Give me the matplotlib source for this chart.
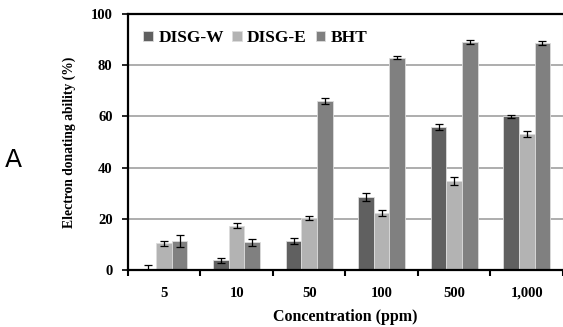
import numpy as np
import matplotlib
matplotlib.use("Agg")
import matplotlib.pyplot as plt

categories = ["5", "10", "50", "100", "500", "1,000"]
series = ["DISG-W", "DISG-E", "BHT"]
disg_w = [0.3, 3.8, 11.3, 28.5, 56.0, 60.0]
disg_w_err = [1.5, 1.0, 1.3, 1.7, 1.1, 0.5]
disg_e = [10.5, 17.3, 20.3, 22.3, 34.8, 53.3]
disg_e_err = [1.0, 1.0, 0.8, 1.2, 1.6, 1.2]
bht = [11.5, 10.8, 66.0, 83.0, 89.0, 88.8]
bht_err = [2.3, 1.3, 1.3, 0.6, 0.7, 0.7]

colors = ["#606060", "#b3b3b3", "#808080"]
serif = "Liberation Serif"

fig = plt.figure(figsize=(5.63, 3.27), dpi=100)
ax = fig.add_axes([0.227, 0.174, 0.773, 0.783])

x = np.arange(len(categories))
w = 0.215
values = [disg_w, disg_e, bht]
errors = [disg_w_err, disg_e_err, bht_err]
for i, (vals, errs) in enumerate(zip(values, errors)):
    ax.bar(x + (i - 1) * w, vals, w, color=colors[i], edgecolor="#dcdcdc",
           linewidth=0.6, label=series[i], zorder=2)
    ax.errorbar(x + (i - 1) * w, vals, yerr=errs, fmt="none", ecolor="black",
                elinewidth=0.9, capsize=2.6, capthick=0.9, zorder=3)

ax.set_xlim(-0.5, len(categories) - 0.5)
ax.set_ylim(0, 100)
ax.set_yticks(range(0, 101, 20))
ax.yaxis.grid(True, color="#a0a0a0", linewidth=1.2, zorder=0)
ax.set_axisbelow(True)

ax.set_xticks(x)
ax.set_xticklabels(categories)
ax.set_xticks(np.arange(-0.5, len(categories)), minor=True)
ax.tick_params(axis="x", which="major", length=0, pad=12)
ax.tick_params(axis="x", which="minor", length=4, width=1.5, direction="out")
ax.tick_params(axis="y", length=4, width=1.2, pad=7)

for lab in ax.get_xticklabels() + ax.get_yticklabels():
    lab.set_fontfamily(serif)
    lab.set_fontweight("bold")
    lab.set_fontsize(10.5)

for s in ["left", "bottom", "top"]:
    ax.spines[s].set_linewidth(1.6)
    ax.spines[s].set_color("black")
ax.spines["right"].set_color("#d0d0d0")

ax.set_ylabel("Electron donating ability (%)", fontfamily=serif,
              fontweight="bold", fontsize=9.8)
ax.yaxis.set_label_coords(-0.118, 0.5)
ax.set_xlabel("Concentration (ppm)", fontfamily=serif, fontweight="bold",
              fontsize=11.5, labelpad=7)

ax.legend(loc="center left", bbox_to_anchor=(0.02, 0.905), ncol=3,
          frameon=False, handlelength=0.55, handleheight=0.55,
          handletextpad=0.3, columnspacing=0.5, borderaxespad=0,
          prop={"family": serif, "weight": "bold", "size": 12.5})

fig.text(0.008, 0.51, "A", fontsize=18, fontfamily="DejaVu Sans",
         va="center", ha="left")

fig.savefig("out.png", dpi=100)
